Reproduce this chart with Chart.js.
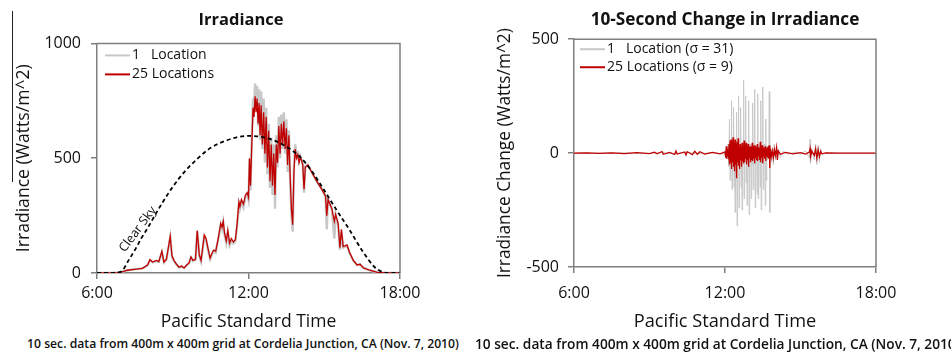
<!DOCTYPE html>
<html>
<head>
<meta charset="utf-8">
<script src="https://cdn.jsdelivr.net/npm/chart.js@4.4.0/dist/chart.umd.min.js"></script>
<style>
  body { margin: 0; width: 951px; height: 352px; background: #fff; overflow: hidden; position: relative; font-family: "Open Sans", Lato, sans-serif; }
  .wrap { position: absolute; top: 0; }
  .note { position: absolute; top: 335px; height: 17px; line-height: 17px; font-weight: 600; color: #111; white-space: nowrap; text-align: center; }
  .mark { position: absolute; left: 12px; top: 11px; height: 171px; border-left: 1px solid #222; }
</style>
</head>
<body>
<div class="mark"></div>
<div class="wrap" style="left:0px"><canvas id="irrChart" width="482" height="335"></canvas></div>
<div class="wrap" style="left:475px"><canvas id="chgChart" width="476" height="335"></canvas></div>
<div class="note" style="left:0px;width:486px;font-size:12.2px">10 sec. data from 400m x 400m grid at Cordelia Junction, CA (Nov. 7, 2010)</div>
<div class="note" style="left:475px;width:476px;font-size:13.7px">10 sec. data from 400m x 400m grid at Cordelia Junction, CA (Nov. 7, 2010)</div>
<script>
// ---- data (hours of day, Watts/m^2) ----
const xTickValues = [6, 12, 18];
const xTickLabels = ['6:00', '12:00', '18:00'];

const irrTimes = [6.00, 6.50, 6.80, 7.00, 7.20, 7.50, 7.80, 8.00, 8.10, 8.20, 8.35, 8.45, 8.57, 8.65, 8.75, 8.90, 8.97,
    9.05, 9.15, 9.25, 9.35, 9.45, 9.55, 9.65, 9.72, 9.80, 9.90, 9.97, 10.05, 10.12, 10.25, 10.32, 10.40, 10.48, 10.55,
    10.62, 10.70, 10.80, 10.90, 10.95, 11.00, 11.05, 11.12, 11.18, 11.25, 11.32, 11.40, 11.48, 11.55, 11.62, 11.66,
    11.72, 11.80, 11.88, 11.95, 12.00, 12.04, 12.08, 12.13, 12.18, 12.22, 12.26, 12.30, 12.34, 12.38, 12.42, 12.46,
    12.50, 12.55, 12.60, 12.65, 12.70, 12.75, 12.80, 12.85, 12.90, 12.95, 13.00, 13.05, 13.10, 13.15, 13.20, 13.25,
    13.30, 13.35, 13.40, 13.45, 13.50, 13.55, 13.60, 13.65, 13.70, 13.75, 13.80, 13.85, 13.90, 13.95, 14.00, 14.05,
    14.10, 14.15, 14.20, 14.25, 14.35, 14.50, 14.70, 14.90, 15.05, 15.10, 15.15, 15.30, 15.40, 15.45, 15.55, 15.62,
    15.68, 15.75, 15.90, 16.00, 16.15, 16.30, 16.42, 16.55, 16.80, 17.10, 17.40, 18.00];
const irr25 = [0, 0, 2, 5, 12, 16, 20, 35, 58, 48, 55, 50, 95, 48, 60, 160, 75,
    55, 38, 25, 30, 22, 35, 45, 70, 55, 60, 185, 80, 55, 165, 150, 105, 65, 85,
    100, 95, 150, 215, 200, 225, 175, 140, 185, 130, 150, 135, 145, 215, 310, 290,
    320, 300, 340, 350, 330, 500, 380, 560, 720, 680, 770, 700, 760, 650, 740, 600,
    730, 560, 700, 520, 680, 460, 620, 400, 560, 380, 520, 340, 560, 480, 640, 520,
    650, 560, 660, 540, 630, 470, 600, 420, 280, 210, 440, 540, 500, 515, 480, 505,
    490, 470, 365, 460, 470, 440, 400, 365, 335, 250, 320, 280, 225, 255, 215, 110,
    190, 115, 122, 90, 55, 35, 38, 22, 12, 3, 0, 0];
const irr1 = [0, 0, 2, 5, 12, 17, 20, 33, 55, 46, 52, 48, 90, 45, 58, 155, 70,
    52, 36, 24, 28, 21, 33, 42, 66, 52, 57, 180, 75, 50, 160, 142, 98, 60, 80,
    95, 88, 145, 210, 190, 220, 165, 130, 178, 120, 140, 128, 138, 205, 300, 280,
    310, 285, 330, 345, 320, 495, 360, 580, 760, 700, 825, 720, 815, 640, 800, 580,
    790, 540, 760, 480, 720, 430, 650, 370, 590, 340, 560, 280, 600, 460, 680, 500,
    690, 540, 700, 520, 670, 440, 620, 400, 250, 180, 460, 560, 520, 525, 490, 510,
    495, 475, 350, 465, 472, 440, 400, 365, 335, 190, 320, 280, 150, 255, 210, 100,
    180, 110, 118, 88, 54, 35, 38, 22, 12, 3, 0, 0];

const clearTimes = [6.00, 6.50, 6.75, 7.00, 7.25, 7.50, 7.75, 8.00, 8.50, 9.00, 9.50, 10.00, 10.50, 11.00, 11.50,
    12.00, 12.50, 13.00, 13.50, 14.00, 14.50, 15.00, 15.50, 16.00, 16.50, 17.00, 17.25, 17.50, 18.00];
const clearSky = [0, 0, 1, 10, 55, 100, 150, 195, 290, 375, 445, 500, 545, 572, 590,
    597, 593, 578, 550, 510, 445, 360, 272, 188, 98, 25, 7, 0, 0];

const chgTimes1 = [6.00, 7.00, 8.00, 9.00, 9.50, 10.00, 10.50, 11.00, 11.50, 12.00, 12.05, 12.08, 12.12, 12.15,
    12.18, 12.20, 12.22, 12.24, 12.26, 12.28, 12.30, 12.32, 12.34, 12.36, 12.38, 12.40, 12.42, 12.44, 12.46, 12.48,
    12.50, 12.52, 12.54, 12.56, 12.58, 12.60, 12.62, 12.64, 12.66, 12.68, 12.70, 12.72, 12.74, 12.76, 12.78, 12.80,
    12.82, 12.84, 12.86, 12.88, 12.90, 12.92, 12.94, 12.96, 12.98, 13.00, 13.02, 13.04, 13.06, 13.08, 13.10, 13.12,
    13.14, 13.16, 13.18, 13.20, 13.22, 13.24, 13.26, 13.28, 13.30, 13.32, 13.34, 13.36, 13.38, 13.40, 13.42, 13.44,
    13.46, 13.48, 13.50, 13.52, 13.54, 13.56, 13.58, 13.60, 13.62, 13.64, 13.66, 13.68, 13.72, 13.74, 13.76, 13.78,
    13.80, 13.84, 13.88, 13.92, 13.96, 14.00, 14.10, 14.20, 14.30, 14.50, 14.80, 15.00, 15.20, 15.35, 15.38, 15.40,
    15.45, 15.55, 15.60, 15.65, 15.70, 15.75, 15.80, 15.85, 16.00, 17.00, 18.00];
const chg1 = [0, 0, 1, -1, 2, -2, 3, -3, 2, -5, 20, -25, 40, -60,
    150, -120, 30, -40, 230, -160, 20, -30, 200, -150, 25, -260, 40, -30, 180, -320,
    30, -20, 250, -240, 20, -30, 200, -150, 30, -250, 20, -40, 320, -200, 25, -20,
    250, -130, 30, -230, 20, -40, 230, -270, 20, -30, 40, -200, 30, -50, 220, -160,
    25, -30, 280, -240, 20, -40, 30, -180, 260, -200, 30, -40, 20, -150, 230, -250,
    20, -30, 290, -160, 25, -20, 40, -230, 150, -120, 20, -30, 30, -20, 270, -260,
    30, -40, 20, -50, 40, -30, 15, -20, 8, -5, 5, -5, 10, -20, 60, -45,
    20, -30, 40, -50, 35, -40, 20, -5, 0, 0, 0];

const chgTimes25 = [6.00, 6.50, 7.00, 7.50, 8.00, 8.50, 9.00, 9.20, 9.30, 9.50, 9.55, 9.80, 10.00, 10.05, 10.10,
    10.40, 10.45, 10.50, 10.70, 10.80, 10.90, 11.00, 11.20, 11.50, 11.80, 12.00, 12.03, 12.05, 12.07, 12.10, 12.14,
    12.16, 12.18, 12.20, 12.22, 12.24, 12.26, 12.28, 12.30, 12.32, 12.34, 12.36, 12.38, 12.40, 12.42, 12.44, 12.46,
    12.48, 12.50, 12.52, 12.54, 12.56, 12.58, 12.60, 12.62, 12.64, 12.66, 12.68, 12.70, 12.72, 12.74, 12.76, 12.78,
    12.80, 12.82, 12.84, 12.86, 12.88, 12.90, 12.92, 12.94, 12.96, 12.98, 13.00, 13.02, 13.04, 13.06, 13.08, 13.10,
    13.12, 13.14, 13.16, 13.18, 13.20, 13.22, 13.24, 13.26, 13.28, 13.30, 13.32, 13.34, 13.36, 13.38, 13.40, 13.42,
    13.44, 13.46, 13.48, 13.50, 13.52, 13.54, 13.56, 13.58, 13.60, 13.62, 13.64, 13.66, 13.68, 13.70, 13.72, 13.74,
    13.76, 13.78, 13.80, 13.84, 13.88, 13.92, 13.96, 14.00, 14.05, 14.08, 14.12, 14.20, 14.40, 14.70, 15.00, 15.20,
    15.35, 15.38, 15.40, 15.45, 15.55, 15.60, 15.65, 15.70, 15.75, 15.80, 15.85, 16.00, 16.50, 17.00, 18.00];
const chg25 = [0, 1, -1, 1, -2, 2, -2, 4, -3, 7, -5, 3, -6, 9, -4,
    5, -8, 6, -7, 8, -5, 6, -4, 3, -3, 5, -20, 30, -25, 10, -15,
    40, -50, 55, -45, 60, -70, 50, -40, 70, -60, 45, -80, 60, -50, 40, -110,
    50, -40, 65, -55, 30, -70, 40, -30, 25, -60, 45, -35, 30, -45, 55, -40,
    35, -25, 45, -50, 30, -30, 40, -60, 25, -20, 30, -40, 20, -30, 45, -35,
    25, -25, 35, -45, 30, -20, 15, -30, 40, -35, 25, -15, 20, -30, 50, -40,
    30, -20, 35, -45, 25, -15, 20, -25, 30, -35, 20, -15, 25, -20, 30, -25,
    35, -65, 20, -15, 10, -20, 15, -10, 25, -30, 10, -5, 3, -3, 2, -4,
    5, 20, -15, 8, -10, 18, -22, 15, -15, 8, -3, 1, 0, 0, 0];

const clearSkyLabel = { text: 'Clear Sky', time: 7.62, value: 190 };

// ---- styling ----
const fontFamily = '"Open Sans", Lato, sans-serif';
const axisGray = '#7f7f7f';
const textColor = '#111';
const redColor = '#c00000';
const grayColor = '#c8c8c8';

Chart.defaults.font.family = fontFamily;
Chart.defaults.color = textColor;

const toPoints = (xs, ys) => xs.map((x, i) => ({ x: x, y: ys[i] }));

// top and right edges of the plot box
const frameBox = {
    id: 'frameBox',
    afterDraw(chart) {
        const { ctx, chartArea: a } = chart;
        ctx.save();
        ctx.strokeStyle = axisGray;
        ctx.lineWidth = 1.5;
        ctx.beginPath();
        ctx.moveTo(a.left, a.top);
        ctx.lineTo(a.right, a.top);
        ctx.lineTo(a.right, a.bottom);
        ctx.stroke();
        ctx.restore();
    }
};

// legend drawn inside the plot, top left
const insideLegend = {
    id: 'insideLegend',
    afterDraw(chart, args, opts) {
        const { ctx, chartArea: a } = chart;
        const items = chart.data.datasets.filter(ds => ds.inLegend);
        ctx.save();
        ctx.font = `${opts.size}px ${fontFamily}`;
        ctx.textBaseline = 'middle';
        items.forEach((ds, i) => {
            const x = a.left + opts.dx;
            const y = a.top + opts.dy + i * opts.rowGap;
            ctx.strokeStyle = ds.borderColor;
            ctx.lineWidth = 2;
            ctx.beginPath();
            ctx.moveTo(x, y);
            ctx.lineTo(x + 25, y);
            ctx.stroke();
            ctx.fillStyle = textColor;
            ctx.fillText(ds.label, x + 27, y);
        });
        ctx.restore();
    }
};

const clearSkyText = {
    id: 'clearSkyText',
    afterDatasetsDraw(chart) {
        const { ctx, scales } = chart;
        ctx.save();
        ctx.translate(scales.x.getPixelForValue(clearSkyLabel.time), scales.y.getPixelForValue(clearSkyLabel.value));
        ctx.rotate(-53 * Math.PI / 180);
        ctx.font = `12.5px ${fontFamily}`;
        ctx.fillStyle = textColor;
        ctx.textAlign = 'center';
        ctx.textBaseline = 'middle';
        ctx.fillText(clearSkyLabel.text, 0, 0);
        ctx.restore();
    }
};

function timeAxis(height, tickPad, fontSize) {
    return {
        type: 'linear',
        min: 6,
        max: 18,
        afterBuildTicks: axis => { axis.ticks = xTickValues.map(v => ({ value: v })); },
        afterFit: axis => { axis.height = height; },
        ticks: {
            padding: tickPad,
            font: { size: 16 },
            color: textColor,
            maxRotation: 0,
            callback: value => xTickLabels[xTickValues.indexOf(value)]
        },
        grid: { drawOnChartArea: false, drawTicks: true, tickLength: 6, color: axisGray, lineWidth: 1.5 },
        border: { display: true, color: axisGray, width: 1.5 },
        title: { display: true, text: 'Pacific Standard Time', font: { size: fontSize }, color: textColor, padding: { top: 0, bottom: 2 } }
    };
}

function valueAxis(min, max, width, tickPad, titleText, titleOffset, fontSize) {
    return {
        type: 'linear',
        min: min,
        max: max,
        afterBuildTicks: axis => { axis.ticks = [min, (min + max) / 2, max].map(v => ({ value: v })); },
        afterFit: axis => { axis.width = width; },
        ticks: { padding: tickPad, font: { size: 16 }, color: textColor, callback: value => String(value) },
        grid: { drawOnChartArea: false, drawTicks: true, tickLength: 6, color: axisGray, lineWidth: 1.5 },
        border: { display: true, color: axisGray, width: 1.5 },
        title: { display: true, text: titleText, font: { size: fontSize }, color: textColor, padding: { top: titleOffset, bottom: 0 } }
    };
}

new Chart(document.getElementById('irrChart'), {
    type: 'line',
    data: {
        datasets: [
            { label: '1   Location', data: toPoints(irrTimes, irr1), borderColor: grayColor, borderWidth: 2.4, order: 3, inLegend: true },
            { label: '25 Locations', data: toPoints(irrTimes, irr25), borderColor: redColor, borderWidth: 1.3, order: 2, inLegend: true },
            { label: 'Clear Sky', data: toPoints(clearTimes, clearSky), borderColor: '#000', borderWidth: 1.8, borderDash: [4, 3],
              cubicInterpolationMode: 'monotone', order: 1, inLegend: false }
        ]
    },
    options: {
        responsive: false,
        animation: false,
        events: [],
        elements: { point: { radius: 0 }, line: { tension: 0 } },
        layout: { padding: 0 },
        scales: {
            x: timeAxis(62, 5, 17.5),
            y: valueAxis(0, 1000, 97, 10, 'Irradiance (Watts/m^2)', 13, 17.6),
            // empty right-hand scale: only reserves room so the title sits where the original has it
            ySpace: { type: 'linear', position: 'right', afterFit: axis => { axis.width = 82; },
                      ticks: { display: false }, grid: { display: false }, border: { display: false } }
        },
        plugins: {
            legend: { display: false },
            tooltip: { enabled: false },
            title: { display: true, text: 'Irradiance', font: { size: 16.5, weight: 'bold' }, color: textColor, padding: { top: 10, bottom: 13.6 } },
            insideLegend: { dx: 8, dy: 12, rowGap: 19, size: 14 }
        }
    },
    plugins: [frameBox, insideLegend, clearSkyText]
});

new Chart(document.getElementById('chgChart'), {
    type: 'line',
    data: {
        datasets: [
            { label: '1   Location (σ = 31)', data: toPoints(chgTimes1, chg1), borderColor: grayColor, borderWidth: 1, order: 3, inLegend: true },
            { label: '25 Locations (σ = 9)', data: toPoints(chgTimes25, chg25), borderColor: redColor, borderWidth: 1.3, order: 2, inLegend: true }
        ]
    },
    options: {
        responsive: false,
        animation: false,
        events: [],
        elements: { point: { radius: 0 }, line: { tension: 0 } },
        layout: { padding: { right: 75 } },
        scales: {
            x: timeAxis(68, 11, 18.2),
            y: valueAxis(-500, 500, 99, 9, 'Irradiance Change (Watts/m^2)', 19.5, 17.3),
        },
        plugins: {
            legend: { display: false },
            tooltip: { enabled: false },
            title: { display: true, fullSize: false, text: '10-Second Change in Irradiance', font: { size: 17.2, weight: 'bold' }, color: textColor, padding: { top: 10, bottom: 8.6 } },
            insideLegend: { dx: 6, dy: 10, rowGap: 18, size: 14 }
        }
    },
    plugins: [frameBox, insideLegend]
});
</script>
</body>
</html>
